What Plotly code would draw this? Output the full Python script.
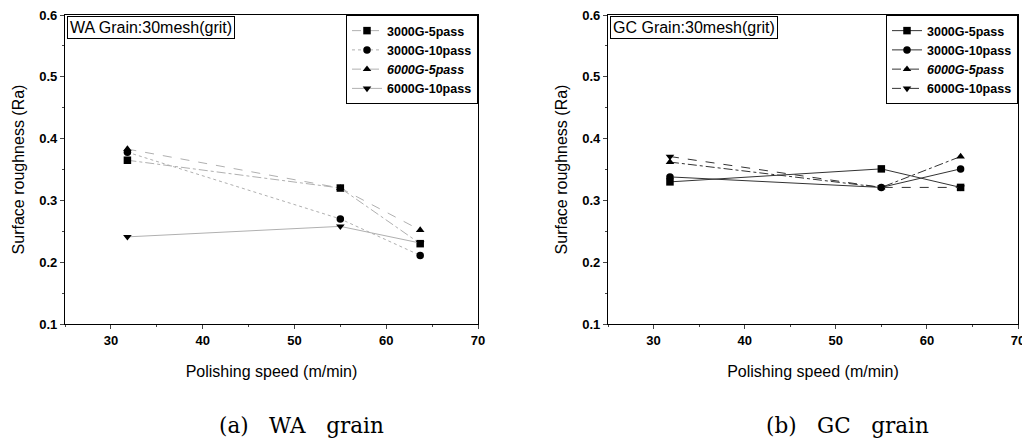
import plotly.graph_objects as go

# -- Datos -----------------------------------------------------------------
velocidad = [31.8, 55.0, 63.7]
series = ["3000G-5pass", "3000G-10pass", "6000G-5pass", "6000G-10pass"]
etiquetas = ["<b>3000G-5pass</b>", "<b>3000G-10pass</b>", "<b><i>6000G-5pass</i></b>", "<b>6000G-10pass</b>"]

wa_ra = {
    "3000G-5pass": [0.365, 0.320, 0.230],
    "3000G-10pass": [0.378, 0.270, 0.211],
    "6000G-5pass": [0.383, 0.320, 0.252],
    "6000G-10pass": [0.241, 0.258, 0.231],
}
gc_ra = {
    "3000G-5pass": [0.330, 0.351, 0.321],
    "3000G-10pass": [0.338, 0.321, 0.351],
    "6000G-5pass": [0.362, 0.321, 0.371],
    "6000G-10pass": [0.371, 0.321, 0.321],
}

simbolos = ["square", "circle", "triangle-up", "triangle-down"]
trazos_wa = ["dashdot", "dot", "dash", "solid"]
trazos_gc = ["solid", "solid", "dashdot", "dash"]

FUENTE = "Liberation Sans, Arial, sans-serif"
W, H = 1030, 446
OFF = 8  # margen por defecto del <body>


def px(x):
    return (x - OFF) / W


def py(y):
    return 1 - (y - OFF) / H


fig = go.Figure()

# -- Trazas ----------------------------------------------------------------
for i, s in enumerate(series):
    fig.add_trace(go.Scatter(
        x=velocidad, y=wa_ra[s], name=etiquetas[i], mode="lines+markers",
        xaxis="x", yaxis="y", legend="legend",
        line=dict(color="#b0b0b0", width=1, dash=trazos_wa[i]),
        marker=dict(symbol=simbolos[i], size=7.5, color="black"),
    ))
    fig.add_trace(go.Scatter(
        x=velocidad, y=gc_ra[s], name=etiquetas[i], mode="lines+markers",
        xaxis="x2", yaxis="y2", legend="legend2",
        line=dict(color="#333333", width=1, dash=trazos_gc[i]),
        marker=dict(symbol=simbolos[i], size=7.5, color="black"),
    ))

# -- Ejes ------------------------------------------------------------------
y_dom = [py(324), py(15)]
eje_x = dict(range=[25, 70], dtick=10, ticks="outside", ticklen=4, automargin=False,
             ticklabeloverflow="allow",
             showline=True, linecolor="black", linewidth=1.2, mirror=True,
             showgrid=False, zeroline=False,
             minor=dict(dtick=5, ticks="outside", ticklen=2),
             tickfont=dict(family=FUENTE, size=13, color="black"),
             tickprefix="<b>", ticksuffix="</b>",
             title=dict(text="Polishing speed (m/min)", standoff=19,
                        font=dict(family=FUENTE, size=16, color="black")))
eje_y = dict(range=[0.1, 0.6], dtick=0.1, tickformat=".1f", ticks="outside", ticklen=4,
             automargin=False, ticklabeloverflow="allow",
             showline=True, linecolor="black", linewidth=1.2, mirror=True,
             showgrid=False, zeroline=False,
             minor=dict(dtick=0.05, ticks="outside", ticklen=2),
             tickfont=dict(family=FUENTE, size=13, color="black"),
             tickprefix="<b>", ticksuffix="</b>",
             title=dict(text="Surface roughness (Ra)", standoff=10,
                        font=dict(family=FUENTE, size=16, color="black")))

leyenda = dict(bgcolor="white", bordercolor="black", borderwidth=1,
               font=dict(family=FUENTE, size=12.5, color="black"),
               xanchor="right", yanchor="top", y=py(15),
               itemwidth=30, tracegroupgap=0)

fig.update_layout(
    width=W, height=H,
    margin=dict(l=0, r=0, t=0, b=0),
    paper_bgcolor="white", plot_bgcolor="white",
    showlegend=True,
    xaxis=dict(eje_x, domain=[px(65), px(478)], anchor="y"),
    yaxis=dict(eje_y, domain=y_dom, anchor="x"),
    xaxis2=dict(eje_x, domain=[px(608), px(1018)], anchor="y2"),
    yaxis2=dict(eje_y, domain=y_dom, anchor="x2"),
    legend=dict(leyenda, x=px(478)),
    legend2=dict(leyenda, x=px(1018)),
)

# -- Rótulos ---------------------------------------------------------------
for ref, texto in [("", "WA Grain:30mesh(grit)"), ("2", "GC Grain:30mesh(grit)")]:
    fig.add_annotation(
        xref=f"x{ref} domain", yref=f"y{ref} domain", x=0.005, y=0.997,
        xanchor="left", yanchor="top", text=texto, showarrow=False,
        font=dict(family=FUENTE, size=16, color="black"),
        bordercolor="black", borderwidth=1, borderpad=2, bgcolor="white",
    )

for xc, texto in [(301, "(a)&nbsp;&nbsp;&nbsp;WA&nbsp;&nbsp;&nbsp;grain"),
                  (847, "(b)&nbsp;&nbsp;&nbsp;GC&nbsp;&nbsp;&nbsp;grain")]:
    fig.add_annotation(
        xref="paper", yref="paper", x=px(xc), y=py(425),
        xanchor="center", yanchor="middle", text=texto, showarrow=False,
        font=dict(family="DejaVu Serif, serif", size=21.5, color="black"),
    )

fig.write_html("out.html")
